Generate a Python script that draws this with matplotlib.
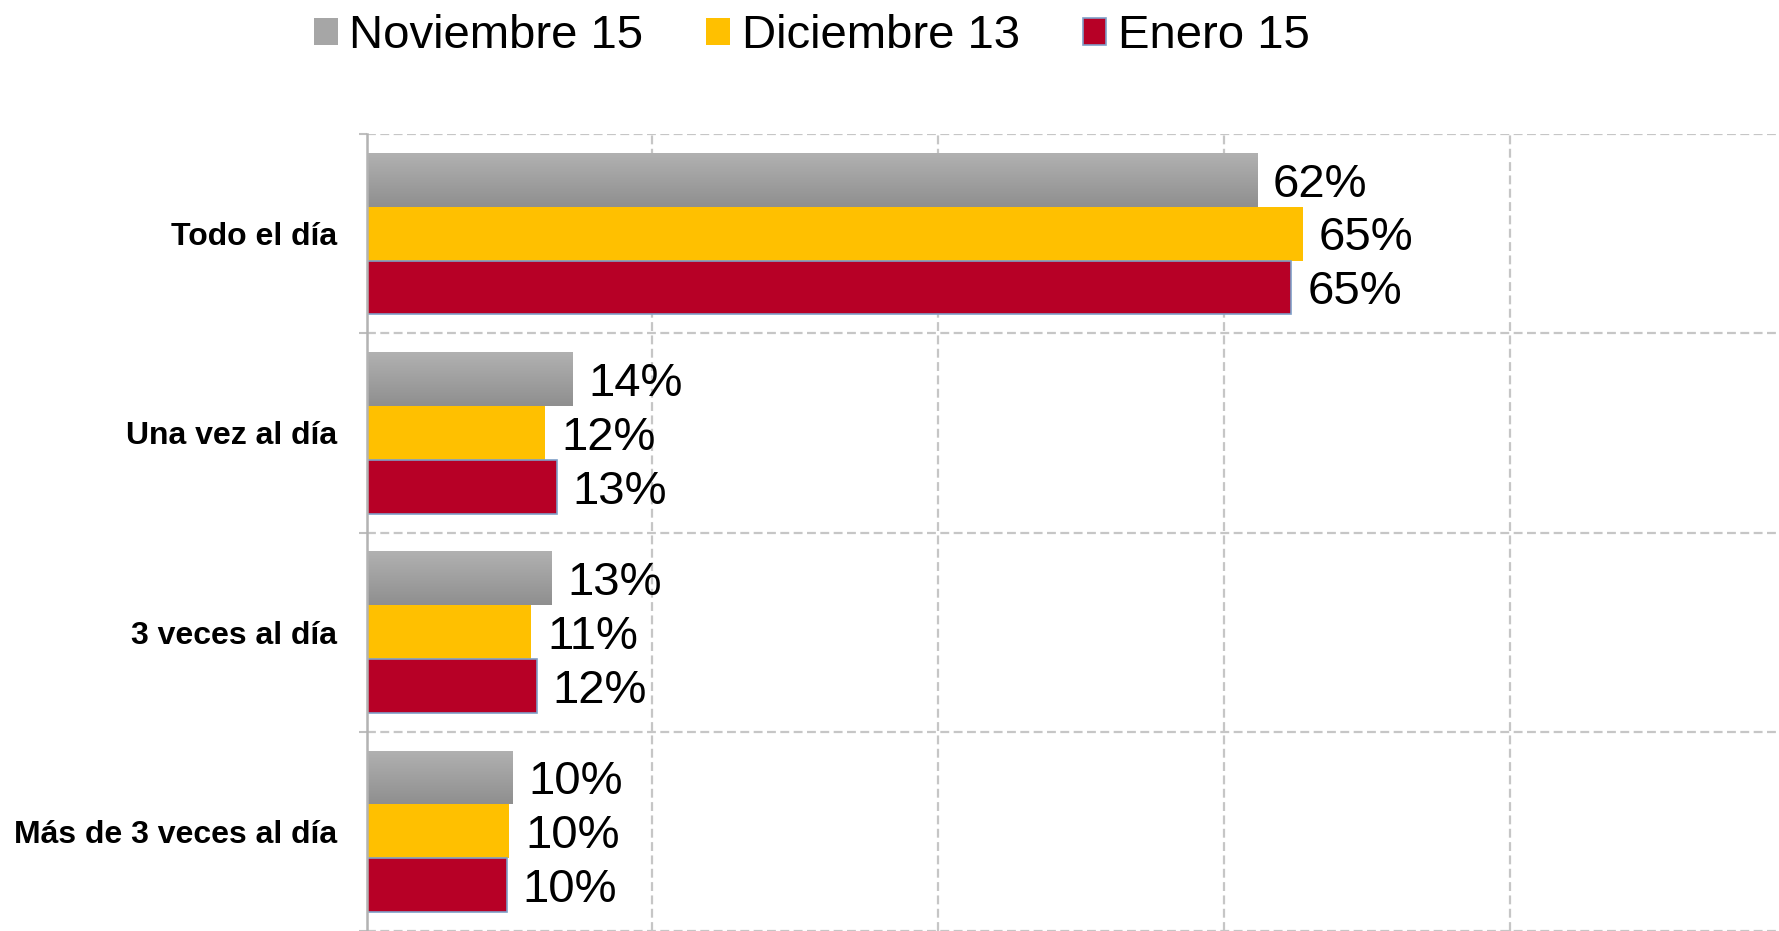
import numpy as np
import matplotlib
matplotlib.use("Agg")
import matplotlib.pyplot as plt
from matplotlib.patches import Patch

plt.rcParams['font.family'] = ['Liberation Sans', 'DejaVu Sans']

categories = ["Todo el día", "Una vez al día", "3 veces al día", "Más de 3 veces al día"]
series_names = ["Noviembre 15", "Diciembre 13", "Enero 15"]
nov15 = [62.3, 14.4, 12.9, 10.2]
dic13 = [65.5, 12.5, 11.5, 10.0]
ene15 = [64.7, 13.3, 11.9, 9.8]
labels_nov = ["62%", "14%", "13%", "10%"]
labels_dic = ["65%", "12%", "11%", "10%"]
labels_ene = ["65%", "13%", "12%", "10%"]

colors = ["#a6a6a6", "#ffc000", "#b70026"]
edges = ["none", "none", "#7f9fc8"]

W, H = 1779, 931
fig = plt.figure(figsize=(W / 100, H / 100), dpi=100)
left = 366.5 / W
top = 134 / H
right_px = 366.5 + 100 * 12.6 * 1.1346
ax = fig.add_axes([left, 0.0, (right_px - 366.5) / W, 1 - top])

y = np.arange(len(categories))
bw = 0.27
offs = [-bw, 0, bw]
series = [nov15, dic13, ene15]
labels = [labels_nov, labels_dic, labels_ene]

for i, (vals, labs) in enumerate(zip(series, labels)):
    bars = ax.barh(y + offs[i], vals, height=bw, color=colors[i],
                   edgecolor=edges[i], linewidth=1.2 if edges[i] != "none" else 0,
                   zorder=3)
    if i == 0:
        grad = np.linspace(0, 1, 100).reshape(-1, 1)
        cmap = matplotlib.colors.LinearSegmentedColormap.from_list("g", ["#b1b1b1", "#8f8f8f"])
        for b in bars:
            x0, y0, w, h = b.get_x(), b.get_y(), b.get_width(), b.get_height()
            im = ax.imshow(grad, aspect='auto', cmap=cmap,
                           extent=(x0, x0 + w, y0 + h, y0), zorder=3.5, origin='upper')
            im.set_clip_path(b)
    for b, lab in zip(bars, labs):
        ax.annotate(lab, (b.get_width(), b.get_y() + b.get_height() / 2),
                    xytext=(11.5, -3.5), textcoords='offset points',
                    ha='left', va='center', fontsize=34, color='black', zorder=5)

ax.set_xlim(0, 100)
ax.set_ylim(3.5, -0.5)

# gridlines
ax.set_xticks([0, 20, 40, 60, 80, 100])
ax.set_xticklabels([])
ax.tick_params(axis='x', length=0)
ax.set_yticks([-0.5, 0.5, 1.5, 2.5, 3.5])
ax.set_yticklabels([])
ax.tick_params(axis='y', which='major', length=6, width=1.5, color='#bfbfbf', direction='out')
ax.set_yticks(y, minor=True)
ax.set_yticklabels(categories, minor=True, fontsize=23, fontweight='bold')
ax.tick_params(axis='y', which='minor', length=0, pad=21)
ax.grid(True, which='major', axis='both', color='#c6c6c6', linestyle=(0, (4, 2)),
        linewidth=1.6, zorder=0)
ax.set_axisbelow(True)
for s in ['top', 'right', 'bottom']:
    ax.spines[s].set_visible(False)
ax.spines['left'].set_color('#b3b3b3')
ax.spines['left'].set_linewidth(1.8)
ax.spines['left'].set_zorder(4)

handles = [Patch(facecolor=colors[0], edgecolor='none'),
           Patch(facecolor=colors[1], edgecolor='none'),
           Patch(facecolor=colors[2], edgecolor='#7f9fc8', linewidth=1.2)]
fig.legend(handles, series_names, loc='center left',
           bbox_to_anchor=(314 / W, 1 - 36 / H), ncol=3, frameon=False,
           fontsize=34, handlelength=0.5, handleheight=0.5, handletextpad=0.25,
           columnspacing=1.33, borderpad=0, borderaxespad=0)

fig.savefig("out.png", dpi=100)
